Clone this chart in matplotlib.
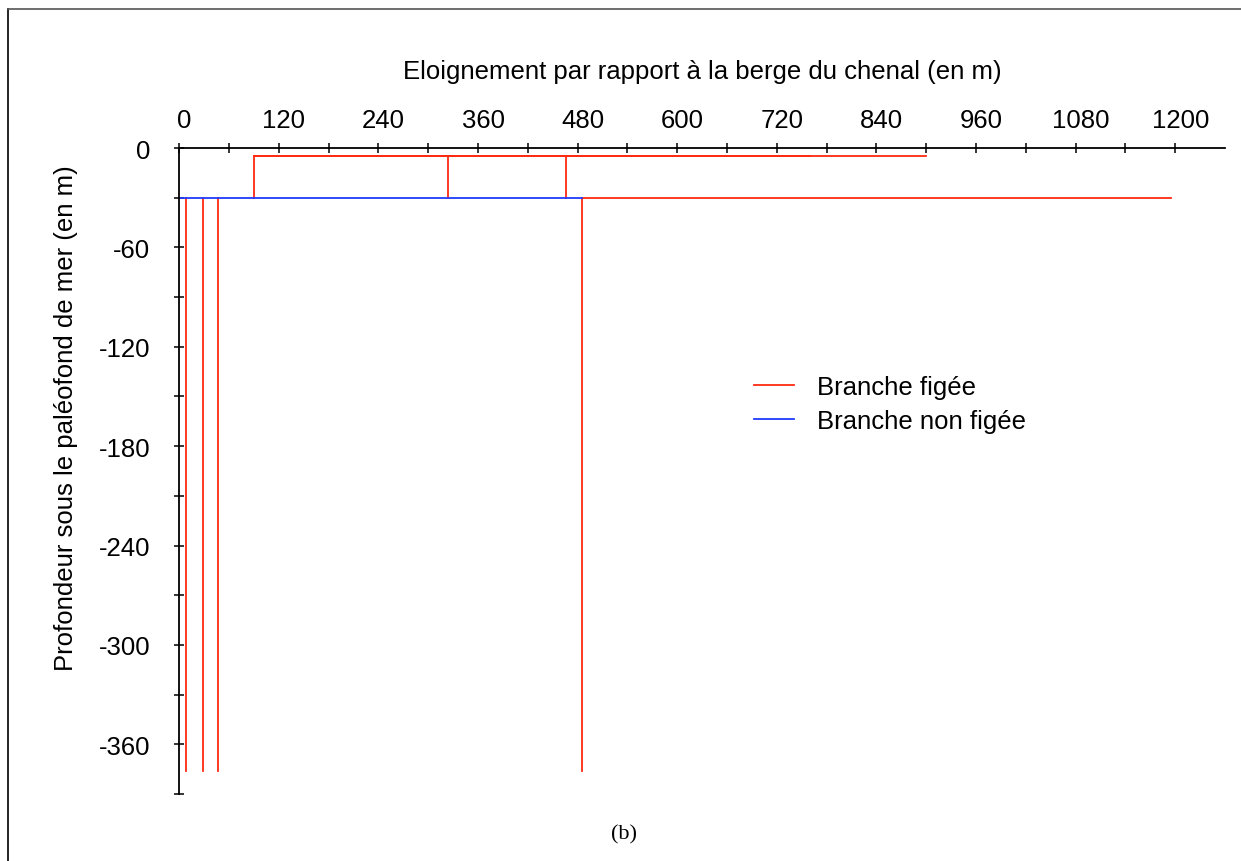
import matplotlib
matplotlib.use('Agg')
import matplotlib.pyplot as plt
import matplotlib.transforms as mtransforms
from matplotlib.lines import Line2D
import numpy as np

plt.rcParams['font.family'] = ['Liberation Sans', 'DejaVu Sans']
plt.rcParams['axes.unicode_minus'] = False

# branch geometry (metres)
deep_x = [8, 28, 47, 485]          # frozen branches going down to the bottom
deep_top = -30
deep_bottom = -376
short_x = [90, 324, 466]           # short frozen branches rising to the upper level
upper_level = -5
lower_level = -30
upper_spans = [(90, 900), (90, 760)]
lower_red_span = (485, 1195)
blue_span = (2, 485)

red = '#ff2a10'
blue = '#1f3cff'
lw = 1.3
fs = 18.5

fig = plt.figure(figsize=(12.41, 8.62), dpi=100)
ax = fig.add_axes([0.1445, 0.0777, 0.8426, 0.7494])

# frozen branches
for x in deep_x:
    ax.plot([x, x], [deep_top, deep_bottom], color=red, linewidth=lw)
for x in short_x:
    ax.plot([x, x], [lower_level, upper_level], color=red, linewidth=lw)
for x0, x1 in upper_spans:
    ax.plot([x0, x1], [upper_level, upper_level], color=red, linewidth=lw)
ax.plot(list(lower_red_span), [lower_level, lower_level], color=red, linewidth=lw)

# non-frozen branch
ax.plot(list(blue_span), [lower_level, lower_level], color=blue, linewidth=lw)

ax.set_xlim(0, 1260)
ax.set_ylim(-390, 0)

ax.spines['right'].set_visible(False)
ax.spines['bottom'].set_visible(False)
ax.spines['top'].set_linewidth(1.3)
ax.spines['left'].set_linewidth(1.3)

ax.xaxis.set_ticks_position('top')
ax.xaxis.set_label_position('top')
ax.set_xticks(np.arange(0, 1201, 120))
ax.set_xticks(np.arange(60, 1201, 120), minor=True)
ax.set_yticks(np.arange(-360, 1, 60))
ax.set_yticks(np.arange(-390, 0, 60), minor=True)

ax.tick_params(which='both', direction='inout', length=7, width=1.1, color='black')
ax.tick_params(axis='x', which='major', labelsize=fs, pad=8)
ax.tick_params(axis='y', which='major', labelsize=fs, pad=17.5)

# shift x tick labels slightly right like in the original
offset = mtransforms.ScaledTranslation(5 / 100, 0, fig.dpi_scale_trans)
for lab in ax.get_xticklabels():
    lab.set_transform(lab.get_transform() + offset)

ax.set_xlabel('Eloignement par rapport à la berge du chenal (en m)', fontsize=fs, labelpad=22)
fig.text(66 / 1241, 1 - 418 / 862, 'Profondeur sous le paléofond de mer (en m)',
         rotation=90, ha='center', va='center', fontsize=fs)

handles = [Line2D([], [], color=red, linewidth=lw), Line2D([], [], color=blue, linewidth=lw)]
fig.legend(handles, ['Branche figée', 'Branche non figée'], frameon=False,
           loc='upper left', bbox_to_anchor=(754 / 1241, 1 - 376 / 862),
           fontsize=fs, handlelength=1.56, handletextpad=0.9, labelspacing=0.4,
           borderpad=0, borderaxespad=0)

fig.text(624 / 1241, 1 - 835 / 862, '(b)', ha='center', va='center',
         fontsize=16, family=['Liberation Serif', 'DejaVu Serif'])

# page frame
fig.add_artist(Line2D([8 / 1241, 8 / 1241], [0, 1 - 10 / 862], color='black', linewidth=1.2,
                      transform=fig.transFigure))
fig.add_artist(Line2D([8 / 1241, 1], [1 - 10 / 862, 1 - 10 / 862], color='#555555', linewidth=1.2,
                      transform=fig.transFigure))

fig.savefig('out.png', dpi=100)
